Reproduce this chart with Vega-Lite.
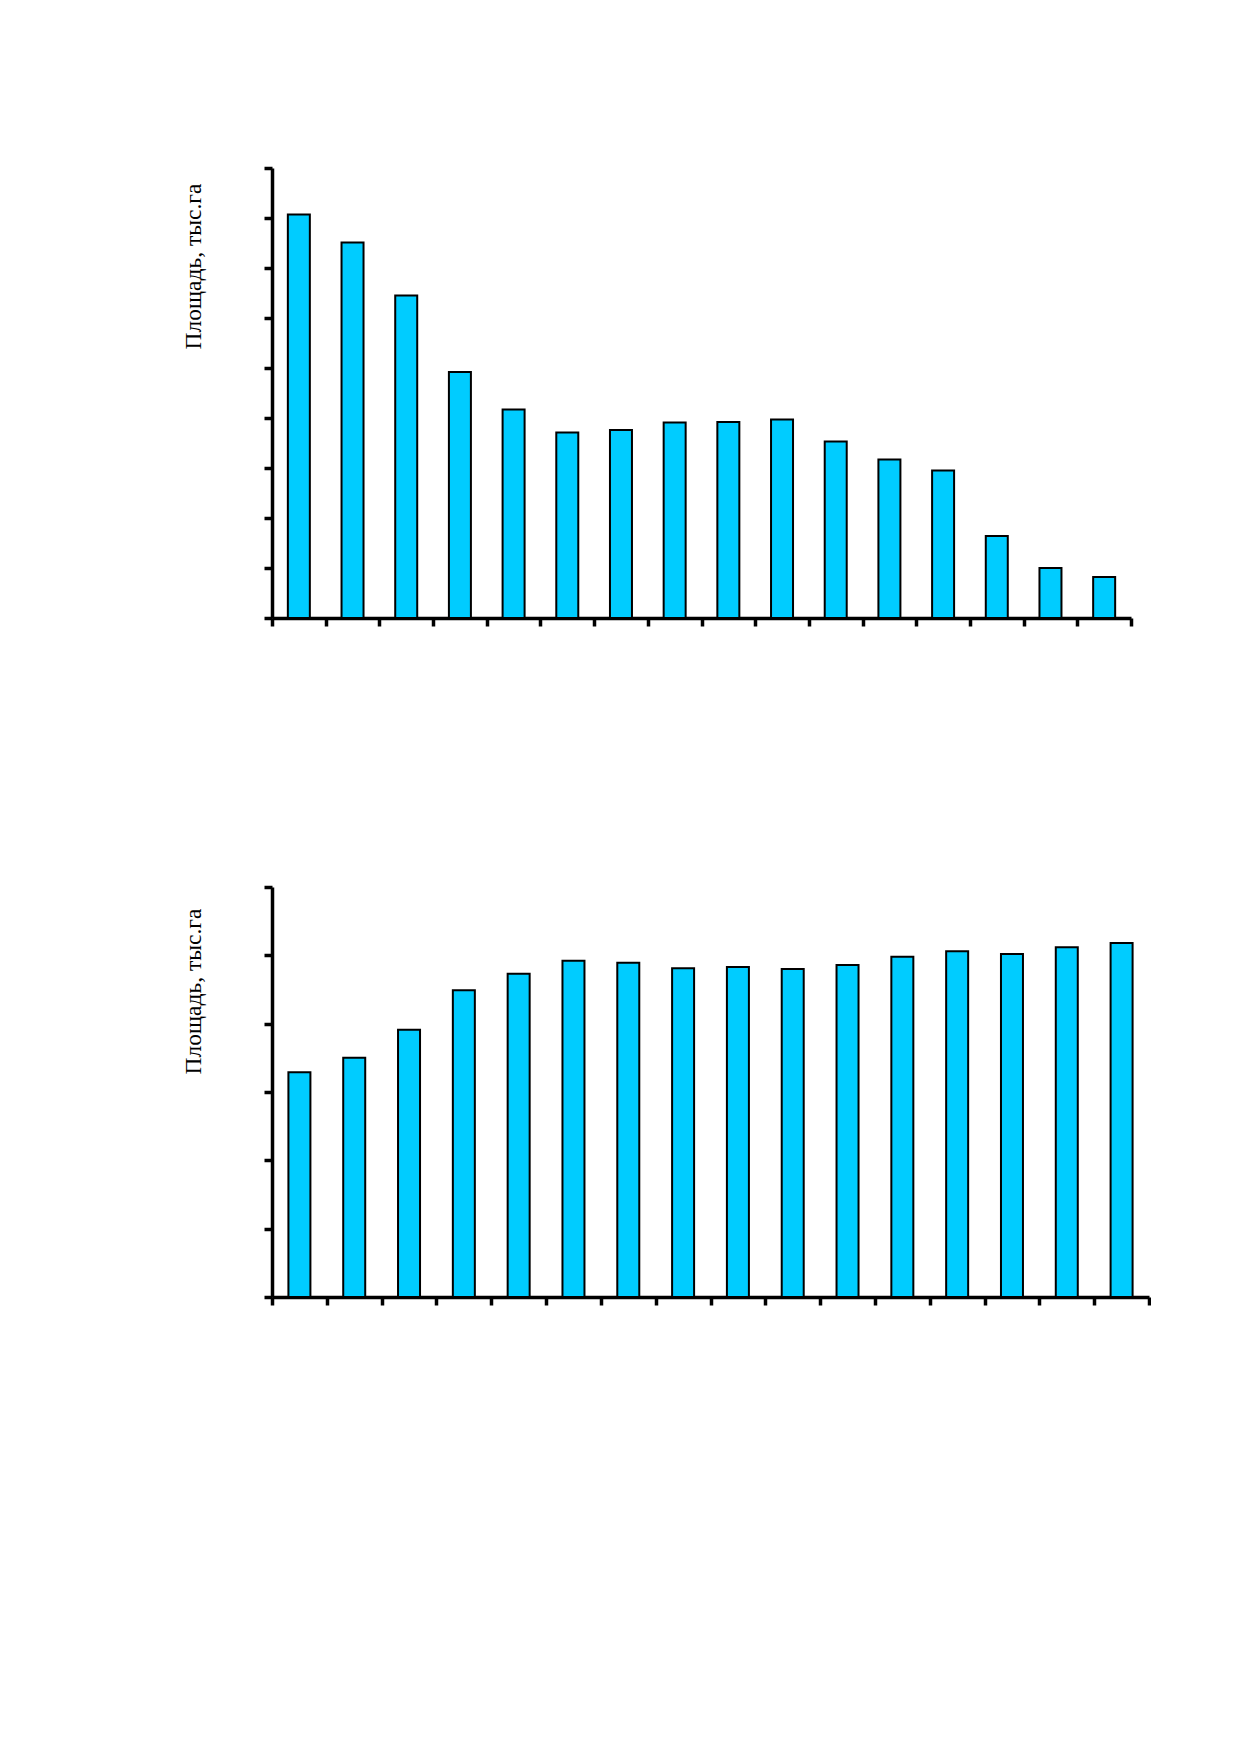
{
  "$schema": "https://vega.github.io/schema/vega-lite/v6.json",
  "background": "white",
  "padding": {"left": 180, "top": 166, "right": 0, "bottom": 0},
  "spacing": 257,
  "config": {
    "view": {"stroke": null},
    "font": "Liberation Serif",
    "axis": {
      "domainColor": "black",
      "domainWidth": 3.5,
      "tickColor": "black",
      "tickWidth": 3.5,
      "tickSize": 8,
      "labels": false,
      "grid": false,
      "titleFont": "Liberation Serif",
      "titleFontSize": 23.5,
      "titleFontWeight": "normal",
      "titleColor": "black"
    }
  },
  "vconcat": [
    {
      "width": 859,
      "height": 450,
      "data": {"values": [
        {"n": 1, "v": 80.7}, {"n": 2, "v": 75.1}, {"n": 3, "v": 64.5}, {"n": 4, "v": 49.2},
        {"n": 5, "v": 41.7}, {"n": 6, "v": 37.1}, {"n": 7, "v": 37.6}, {"n": 8, "v": 39.1},
        {"n": 9, "v": 39.2}, {"n": 10, "v": 39.7}, {"n": 11, "v": 35.3}, {"n": 12, "v": 31.7},
        {"n": 13, "v": 29.5}, {"n": 14, "v": 16.4}, {"n": 15, "v": 10.0}, {"n": 16, "v": 8.2}
      ]},
      "mark": {"type": "bar", "width": 22, "fill": "#00CCFF", "stroke": "black", "strokeWidth": 2},
      "encoding": {
        "x": {"field": "n", "type": "quantitative",
              "scale": {"domain": [0.5, 16.5], "nice": false, "zero": false, "padding": 0},
              "axis": {"title": null, "values": [0.5,1.5,2.5,3.5,4.5,5.5,6.5,7.5,8.5,9.5,10.5,11.5,12.5,13.5,14.5,15.5,16.5]}},
        "y": {"field": "v", "type": "quantitative",
              "scale": {"domain": [0, 90], "nice": false},
              "axis": {"title": "Площадь, тыс.га", "values": [0,10,20,30,40,50,60,70,80,90],
                       "titleX": -79, "titleY": 98, "titleAlign": "center", "titleBaseline": "middle", "titleAngle": -90}}
      }
    },
    {
      "width": 877,
      "height": 410,
      "data": {"values": [
        {"n": 1, "v": 32.9}, {"n": 2, "v": 35.0}, {"n": 3, "v": 39.1}, {"n": 4, "v": 44.9},
        {"n": 5, "v": 47.3}, {"n": 6, "v": 49.2}, {"n": 7, "v": 48.9}, {"n": 8, "v": 48.1},
        {"n": 9, "v": 48.3}, {"n": 10, "v": 48.0}, {"n": 11, "v": 48.6}, {"n": 12, "v": 49.8},
        {"n": 13, "v": 50.6}, {"n": 14, "v": 50.2}, {"n": 15, "v": 51.2}, {"n": 16, "v": 51.8}
      ]},
      "mark": {"type": "bar", "width": 22, "fill": "#00CCFF", "stroke": "black", "strokeWidth": 2},
      "encoding": {
        "x": {"field": "n", "type": "quantitative",
              "scale": {"domain": [0.5, 16.5], "nice": false, "zero": false, "padding": 0},
              "axis": {"title": null, "values": [0.5,1.5,2.5,3.5,4.5,5.5,6.5,7.5,8.5,9.5,10.5,11.5,12.5,13.5,14.5,15.5,16.5]}},
        "y": {"field": "v", "type": "quantitative",
              "scale": {"domain": [0, 60], "nice": false},
              "axis": {"title": "Площадь, тыс.га", "values": [0,10,20,30,40,50,60],
                       "titleX": -79, "titleY": 104, "titleAlign": "center", "titleBaseline": "middle", "titleAngle": -90}}
      }
    }
  ]
}
